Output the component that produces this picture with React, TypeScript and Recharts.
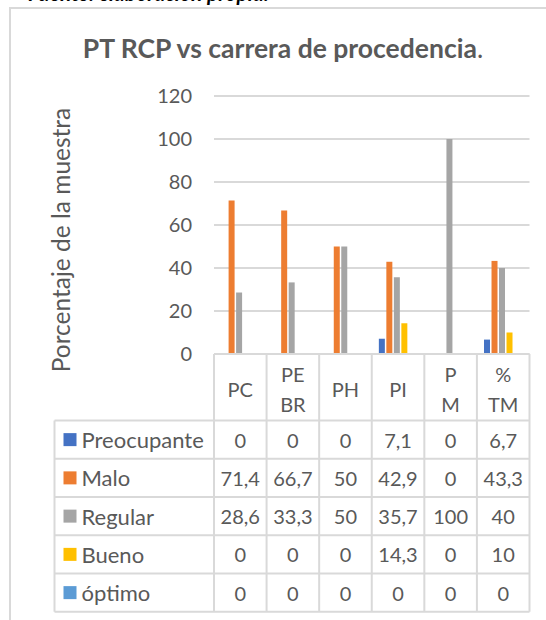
import React from 'react';
import { BarChart, Bar, XAxis, YAxis, CartesianGrid } from 'recharts';

const categories = ['PC', 'PE BR', 'PH', 'PI', 'P M', '% TM'];
const seriesNames = ['Preocupante', 'Malo', 'Regular', 'Bueno', 'óptimo'];
const preocupante = [0, 0, 0, 7.1, 0, 6.7];
const malo = [71.4, 66.7, 50, 42.9, 0, 43.3];
const regular = [28.6, 33.3, 50, 35.7, 100, 40];
const bueno = [0, 0, 0, 14.3, 0, 10];
const optimo = [0, 0, 0, 0, 0, 0];
const yTicks = [0, 20, 40, 60, 80, 100, 120];
const seriesValues = [preocupante, malo, regular, bueno, optimo];
const seriesColors = ['#4472C4', '#ED7D31', '#A5A5A5', '#FFC000', '#5B9BD5'];

const data = categories.map((cat, i) => {
  const row: Record<string, string | number> = { cat };
  seriesNames.forEach((s, k) => {
    row[s] = seriesValues[k][i];
  });
  return row;
});

// layout
const W = 546;
const H = 620;
const PLOT_LEFT = 214;
const PLOT_RIGHT = 529.5;
const PLOT_TOP = 96;
const PLOT_BOTTOM = 354;
const HEADER_BOTTOM = 420.5;
const ROW_H = 38.25;
const TABLE_LEFT = 54.5;
const YAXIS_W = 60;
const XAXIS_H = H - PLOT_BOTTOM;
const LINE = '#d9d9d9';
const TEXT = '#595959';
const FONT = 'Lato, "Open Sans", sans-serif';
const FS = 20;

const fmt = (v: number) => String(v).replace('.', ',');

const TableTick = (props: any) => {
  const { x, index, payload } = props;
  const bw = (PLOT_RIGHT - PLOT_LEFT) / categories.length;
  const cx = x;
  const left = cx - bw / 2;
  const right = cx + bw / 2;
  const tableBottom = HEADER_BOTTOM + ROW_H * seriesNames.length;
  const label = String(payload.value);
  const lines = label.split(' ');
  const headerCenter = (PLOT_BOTTOM + HEADER_BOTTOM) / 2 + 1.5;
  const spacing = 30;
  const els: React.ReactNode[] = [];
  els.push(<line key="vl" x1={left} x2={left} y1={PLOT_BOTTOM} y2={tableBottom} stroke={LINE} strokeWidth={2} />);
  if (index === categories.length - 1) {
    els.push(<line key="vr" x1={right} x2={right} y1={PLOT_BOTTOM} y2={tableBottom} stroke={LINE} strokeWidth={2} />);
  }
  lines.forEach((ln, k) => {
    const y = headerCenter + (k - (lines.length - 1) / 2) * spacing;
    els.push(
      <text key={'h' + k} x={cx} y={y} textAnchor="middle" dominantBaseline="central" fill={TEXT} fontSize={FS} fontFamily={FONT}>
        {ln}
      </text>
    );
  });
  seriesNames.forEach((s, r) => {
    const y = HEADER_BOTTOM + ROW_H * (r + 0.5);
    els.push(
      <text key={'v' + r} x={cx} y={y} textAnchor="middle" dominantBaseline="central" fill={TEXT} fontSize={FS} fontFamily={FONT}>
        {fmt(seriesValues[r][index])}
      </text>
    );
  });
  if (index === 0) {
    for (let r = 0; r <= seriesNames.length; r++) {
      const y = HEADER_BOTTOM + ROW_H * r;
      els.push(<line key={'hl' + r} x1={TABLE_LEFT} x2={PLOT_RIGHT} y1={y} y2={y} stroke={LINE} strokeWidth={2} />);
    }
    els.push(<line key="tl" x1={TABLE_LEFT} x2={TABLE_LEFT} y1={HEADER_BOTTOM} y2={tableBottom} stroke={LINE} strokeWidth={2} />);
    seriesNames.forEach((s, r) => {
      const y = HEADER_BOTTOM + ROW_H * (r + 0.5);
      els.push(<rect key={'k' + r} x={63.5} y={y - 6.5} width={13} height={13} fill={seriesColors[r]} />);
      els.push(
        <text key={'n' + r} x={81.5} y={y} textAnchor="start" dominantBaseline="central" fill={TEXT} fontSize={22} fontFamily={FONT}>
          {s}
        </text>
      );
    });
  }
  return <g>{els}</g>;
};

export default function App() {
  return (
    <div style={{ position: 'absolute', left: 0, top: 0, width: W, height: H, overflow: 'hidden', background: '#fff', fontFamily: FONT }}>
      <div
        style={{
          position: 'absolute',
          left: 28,
          top: -18,
          fontSize: 21,
          lineHeight: '21px',
          fontWeight: 'bold',
          fontStyle: 'italic',
          color: '#000',
          whiteSpace: 'nowrap',
        }}
      >
        Fuente: elaboración propia.
      </div>
      <div style={{ position: 'absolute', left: 9, top: 7, width: 600, height: 700, border: '2px solid #d9d9d9', boxSizing: 'border-box' }} />
      <div
        style={{
          position: 'absolute',
          left: 10,
          width: W,
          top: 33,
          textAlign: 'center',
          fontSize: 26.5,
          lineHeight: '30px',
          color: TEXT,
          whiteSpace: 'nowrap',
        }}
      >
        <span style={{ fontWeight: 'bold' }}>PT RCP vs carrera de procedencia</span>.
      </div>
      <div
        style={{
          position: 'absolute',
          left: 61 - 160,
          top: 240 - 15,
          width: 320,
          height: 30,
          lineHeight: '30px',
          textAlign: 'center',
          transform: 'rotate(-90deg)',
          fontSize: 24.5,
          color: TEXT,
          whiteSpace: 'nowrap',
        }}
      >
        Porcentaje de la muestra
      </div>
      <div style={{ position: 'absolute', left: 0, top: 0 }}>
        <BarChart
          width={W}
          height={H}
          data={data}
          margin={{ top: PLOT_TOP, right: W - PLOT_RIGHT, left: PLOT_LEFT - YAXIS_W, bottom: 0 }}
          barCategoryGap="13.5%"
          barGap={1.5}
        >
          <CartesianGrid vertical={false} stroke={LINE} strokeWidth={2} />
          <XAxis
            dataKey="cat"
            height={XAXIS_H}
            interval={0}
            tickLine={false}
            axisLine={{ stroke: LINE, strokeWidth: 2 }}
            tick={<TableTick />}
          />
          <YAxis
            domain={[0, 120]}
            ticks={yTicks}
            width={YAXIS_W}
            axisLine={false}
            tickLine={false}
            tickMargin={16}
            tick={{ fill: TEXT, fontSize: FS, fontFamily: FONT }}
          />
          {seriesNames.map((s, k) => (
            <Bar key={s} dataKey={s} fill={seriesColors[k]} isAnimationActive={false} />
          ))}
        </BarChart>
      </div>
    </div>
  );
}
